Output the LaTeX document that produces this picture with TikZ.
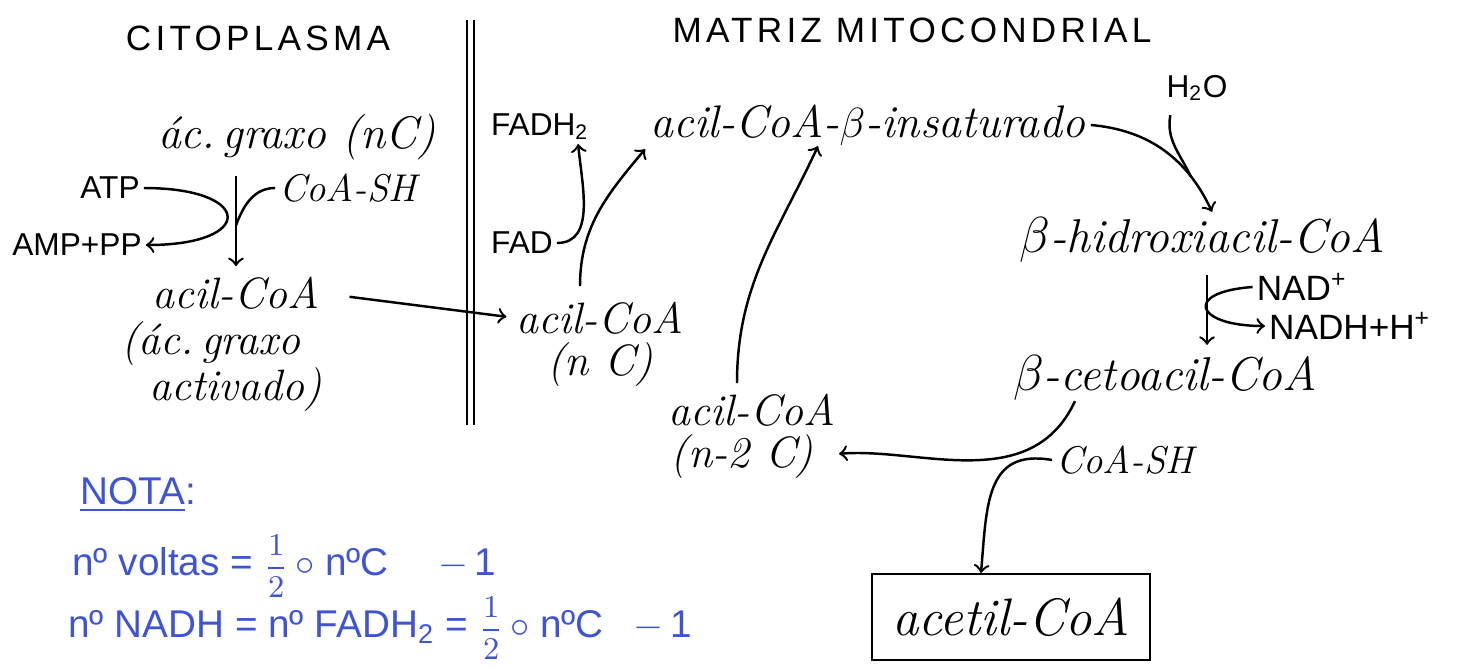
\documentclass[tikz,border=0pt]{standalone}
\usepackage{fontspec}
\setsansfont{Liberation Sans}
\usetikzlibrary{arrows,positioning,calc}
\definecolor{notablue}{RGB}{62,84,210}
\newcommand{\halfof}{{\fontsize{9.5}{10}\selectfont$\displaystyle\frac{1}{2}$}}

\begin{document}
\begin{tikzpicture}[x=0.01cm,y=-0.01cm,node distance=0.46cm,on grid,
  mol/.style={inner sep=0pt,font=\fontsize{12.5}{14}\selectfont\itshape},
  cof/.style={inner sep=1pt,font=\fontsize{9}{11}\selectfont\sffamily},
  cofit/.style={inner sep=1pt,font=\fontsize{11}{13}\selectfont\itshape},
  zone/.style={font=\fontsize{10}{12}\selectfont\sffamily\addfontfeatures{LetterSpace=12}},
  nota/.style={anchor=west,text=notablue,font=\fontsize{11}{13}\selectfont\sffamily},
  rxn/.style={->,line width=0.7pt},
  side/.style={line width=0.7pt}]

\useasboundingbox (0,0) rectangle (1458,666);

% compartments
\node [zone] (citop) at (258,38) {CITOPLASMA};
\node [zone] (matriz) at (912,30) {MATRIZ MITOCONDRIAL};
\draw [line width=0.6pt] (467,20) -- (467,425) (474,20) -- (474,425);

% activation in the cytoplasm
\node [mol, font=\fontsize{13}{15}\selectfont\itshape] (acido) at (297,137) {ác.\,graxo (nC)};
\node [cof] (atp) at (110,188) {ATP};
\node [cof] (amp) at (77,245) {AMP+PP};
\node [cofit] (coash1) at (348,188) {CoA-SH};
\node [mol] (acil) at (236,293) {acil-CoA};
\node [mol] (act1) [below=0.5cm of acil, xshift=-0.25cm] {(ác.\,graxo};
\node [mol] (act2) [below of=act1, xshift=0.25cm] {activado)};

\draw [rxn] (acido.south -| acil.north) ++(0,-0.15cm) -- coordinate[pos=0.55] (jn1) ([yshift=0.1cm]acil.north);
\draw [side,->] (atp.east) .. controls +(110,0) and +(110,0) .. (amp.east);
\draw [side] (coash1.west) to[out=180,in=70] (jn1);

% beta-oxidation cycle
\node [cof] (fadh) at (540,127) {FADH\textsubscript{2}};
\node [cof] (fad) at (522,243) {FAD};
\node [mol] (acilnc) at (600,318) {acil-CoA};
\node [mol] (nc) [below of=acilnc] {(n C)};
\node [mol, font=\fontsize{13}{15}\selectfont\itshape] (insat) at (868,125) {acil-CoA-$\beta$-insaturado};
\node [cof] (h2o) at (1197,88) {H\textsubscript{2}O};
\node [mol, font=\fontsize{13.5}{15}\selectfont\itshape] (hidro) at (1202,240) {$\beta$-hidroxiacil-CoA};
\node [cof, font=\fontsize{10}{12}\selectfont\sffamily] (nad) at (1302,287) {NAD\textsuperscript{+}};
\node [cof, font=\fontsize{10}{12}\selectfont\sffamily] (nadh) at (1350,326) {NADH+H\textsuperscript{+}};
\node [mol, font=\fontsize{13.5}{15}\selectfont\itshape] (ceto) at (1165,378) {$\beta$-cetoacil-CoA};
\node [mol] (acil2) at (752,410) {acil-CoA};
\node [mol] (n2c) [below of=acil2, xshift=-0.1cm] {(n-2 C)};
\node [cofit] (coash2) at (1125,460) {CoA-SH};
\node [draw, line width=0.6pt, minimum width=2.77cm, minimum height=0.86cm,
      font=\fontsize{15}{17}\selectfont\itshape] (acetil) at (1011,617) {acetil-CoA};

\draw [rxn, shorten <=0.3cm, shorten >=0.1cm] (acil.east) -- (acilnc.west);
\draw [rxn] ([xshift=-0.2cm,yshift=0.15cm]acilnc.north) to[out=90,in=-130] ([xshift=-0.05cm,yshift=-0.03cm]insat.south west);
\draw [side,->] (fad.east) to[out=0,in=-85] ([xshift=-0.15cm]fadh.south east);
\draw [rxn] ([xshift=0.05cm]insat.east) to[out=-5,in=115] coordinate[pos=0.75] (jn3) ([xshift=0.1cm,yshift=0.05cm]hidro.north);
\draw [side] (h2o.south west) ++(0.08cm,-0.1cm) to[out=-100,in=115] (jn3);
\draw [rxn] ([xshift=0.05cm,yshift=-0.12cm]hidro.south) -- ([xshift=0.05cm,yshift=0.1cm]hidro.south |- ceto.north);
\draw [side,->] (nad.west) .. controls +(-70,5) and +(-70,0) .. (nadh.west);
\draw [rxn, shorten >=0.25cm] ([xshift=-0.9cm]ceto.south) to[out=-115,in=5] (n2c.east);
\draw [side,->] (coash2.west) to[out=170,in=85,looseness=1.3] ([xshift=-0.3cm]acetil.north);
\draw [rxn] ([xshift=-0.15cm,yshift=0.1cm]acil2.north) to[out=90,in=-115] ([xshift=-0.5cm]insat.south);

% notes
\node [nota] (nota) at (68,495) {\underline{NOTA}:};
\node [nota] (voltas) at (60,566) {nº voltas = \halfof\,$\circ$ nºC \quad $-$\,1};
\node [nota] (nadhf) at (56,628) {nº NADH = nº FADH\textsubscript{2} = \halfof\,$\circ$ nºC \enspace $-$\,1};
\end{tikzpicture}
\end{document}
